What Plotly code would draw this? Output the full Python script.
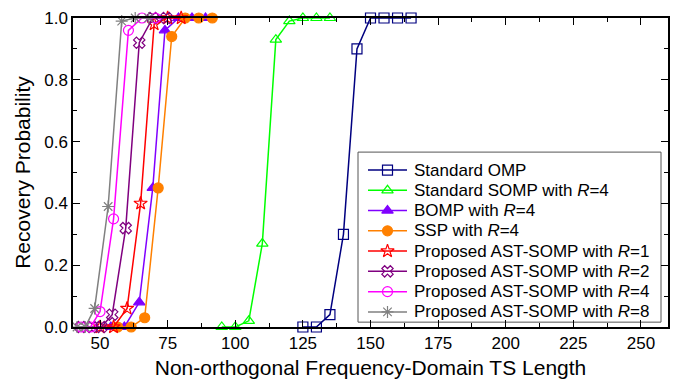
import plotly.graph_objects as go

# ---- data ----
omp_x = [125, 130, 135, 140, 145, 150, 155, 160, 165]
omp_y = [0, 0, 0.04, 0.30, 0.90, 1.0, 1.0, 1.0, 1.0]

somp_x = [95, 100, 105, 110, 115, 120, 125, 130, 135]
somp_y = [0, 0, 0.02, 0.27, 0.93, 0.99, 1.0, 1.0, 1.0]

bomp_x = [54, 59, 64.5, 69.5, 74, 79, 84, 89]
bomp_y = [0, 0, 0.08, 0.45, 0.96, 1.0, 1.0, 1.0]

ssp_x = [56.5, 61.5, 66.5, 71.5, 76.5, 81.5, 86.5, 91.5]
ssp_y = [0, 0, 0.03, 0.45, 0.94, 1.0, 1.0, 1.0]

ast1_x = [50, 55, 60, 65, 70, 75, 80]
ast1_y = [0, 0, 0.06, 0.40, 0.98, 1.0, 1.0]

ast2_x = [43, 47, 50.5, 54.5, 59.5, 64.5, 69.5, 74.5]
ast2_y = [0, 0, 0, 0.04, 0.32, 0.92, 1.0, 1.0]

ast4_x = [43, 46.5, 50, 55, 60.5, 65.5, 70.5]
ast4_y = [0, 0, 0.05, 0.35, 0.96, 1.0, 1.0]

ast8_x = [41.5, 44.5, 48, 53, 58, 63, 68]
ast8_y = [0, 0, 0.06, 0.39, 0.99, 1.0, 1.0]

series_names = [
    "Standard OMP",
    "Standard SOMP with <i>R</i>=4",
    "BOMP with <i>R</i>=4",
    "SSP with <i>R</i>=4",
    "Proposed AST-SOMP with <i>R</i>=1",
    "Proposed AST-SOMP with <i>R</i>=2",
    "Proposed AST-SOMP with <i>R</i>=4",
    "Proposed AST-SOMP with <i>R</i>=8",
]
series_data = [(omp_x, omp_y), (somp_x, somp_y), (bomp_x, bomp_y), (ssp_x, ssp_y),
               (ast1_x, ast1_y), (ast2_x, ast2_y), (ast4_x, ast4_y), (ast8_x, ast8_y)]
colors = ["#000080", "#00FF00", "#8000FF", "#FF8000", "#FF0000", "#800080", "#FF00FF", "#808080"]
symbols = ["square-open", "triangle-up-open", "triangle-up", "circle",
           "star-open", "x-open", "circle-open", "asterisk-open"]

FONT = "Liberation Sans, Arial, sans-serif"

# plot-area geometry in pixels (for the hand-built legend)
W, H = 684, 386
L, R, T, B = 73, 16, 9, 59
PW, PH = W - L - R, H - T - B


def px_to_paper_x(px):
    return (px - L) / PW


def px_to_paper_y(py):
    return (H - B - py) / PH


fig = go.Figure()
for name, (xs, ys), col, sym in zip(series_names, series_data, colors, symbols):
    fig.add_trace(go.Scatter(
        x=xs, y=ys, name=name, mode="lines+markers", showlegend=False,
        line=dict(color=col, width=1.5),
        marker=dict(symbol=sym, size=10, color=col, line=dict(color=col, width=1.2)),
        cliponaxis=False,
    ))

# ---- legend (box, sample lines, sample markers, text) ----
leg_left, leg_top, leg_right, leg_bottom = 358, 147, 661, 322
row0, row_step = 165.5, 20.85
line_x0, line_x1, mark_x, text_x = 368, 407, 387.5, 412

fig.add_shape(type="rect", xref="paper", yref="paper",
              x0=px_to_paper_x(leg_left), x1=px_to_paper_x(leg_right),
              y0=px_to_paper_y(leg_bottom), y1=px_to_paper_y(leg_top),
              line=dict(color="#555555", width=1), fillcolor="white", layer="below")

for i, (name, col, sym) in enumerate(zip(series_names, colors, symbols)):
    yc = row0 + i * row_step
    fig.add_shape(type="line", xref="paper", yref="paper",
                  x0=px_to_paper_x(line_x0), x1=px_to_paper_x(line_x1),
                  y0=px_to_paper_y(yc), y1=px_to_paper_y(yc),
                  line=dict(color=col, width=1.5), layer="below")
    fig.add_trace(go.Scatter(
        x=[px_to_paper_x(mark_x)], y=[px_to_paper_y(yc)], xaxis="x2", yaxis="y2",
        mode="markers", showlegend=False, hoverinfo="skip",
        marker=dict(symbol=sym, size=10, color=col, line=dict(color=col, width=1.2)),
    ))
    fig.add_annotation(text=name, xref="paper", yref="paper",
                       x=px_to_paper_x(text_x), y=px_to_paper_y(yc),
                       xanchor="left", yanchor="middle", showarrow=False,
                       font=dict(family=FONT, size=17, color="black"))

axis_common = dict(
    showline=True, linecolor="black", linewidth=1.5, mirror="ticks",
    ticks="inside", ticklen=7, tickwidth=1.2, tickcolor="black",
    showgrid=False, zeroline=False,
    tickfont=dict(family=FONT, size=17, color="black"),
)

fig.update_xaxes(
    range=[40, 260], dtick=25, tick0=0,
    title=dict(text="Non-orthogonal Frequency-Domain TS Length",
               font=dict(family=FONT, size=21, color="black"), standoff=8),
    minor=dict(ticks="inside", ticklen=4, dtick=12.5, tick0=0, tickcolor="black", tickwidth=1),
    **axis_common,
)
fig.update_yaxes(
    range=[0, 1], dtick=0.2, tickformat=".1f",
    title=dict(text="Recovery Probability",
               font=dict(family=FONT, size=21, color="black"), standoff=8),
    minor=dict(ticks="inside", ticklen=4, dtick=0.1, tickcolor="black", tickwidth=1),
    **axis_common,
)

fig.update_layout(
    width=W, height=H,
    margin=dict(l=L, r=R, t=T, b=B),
    plot_bgcolor="white", paper_bgcolor="white",
    showlegend=False,
    xaxis2=dict(overlaying="x", range=[0, 1], visible=False, fixedrange=True),
    yaxis2=dict(overlaying="y", range=[0, 1], visible=False, fixedrange=True),
)

fig.write_html("out.html")
